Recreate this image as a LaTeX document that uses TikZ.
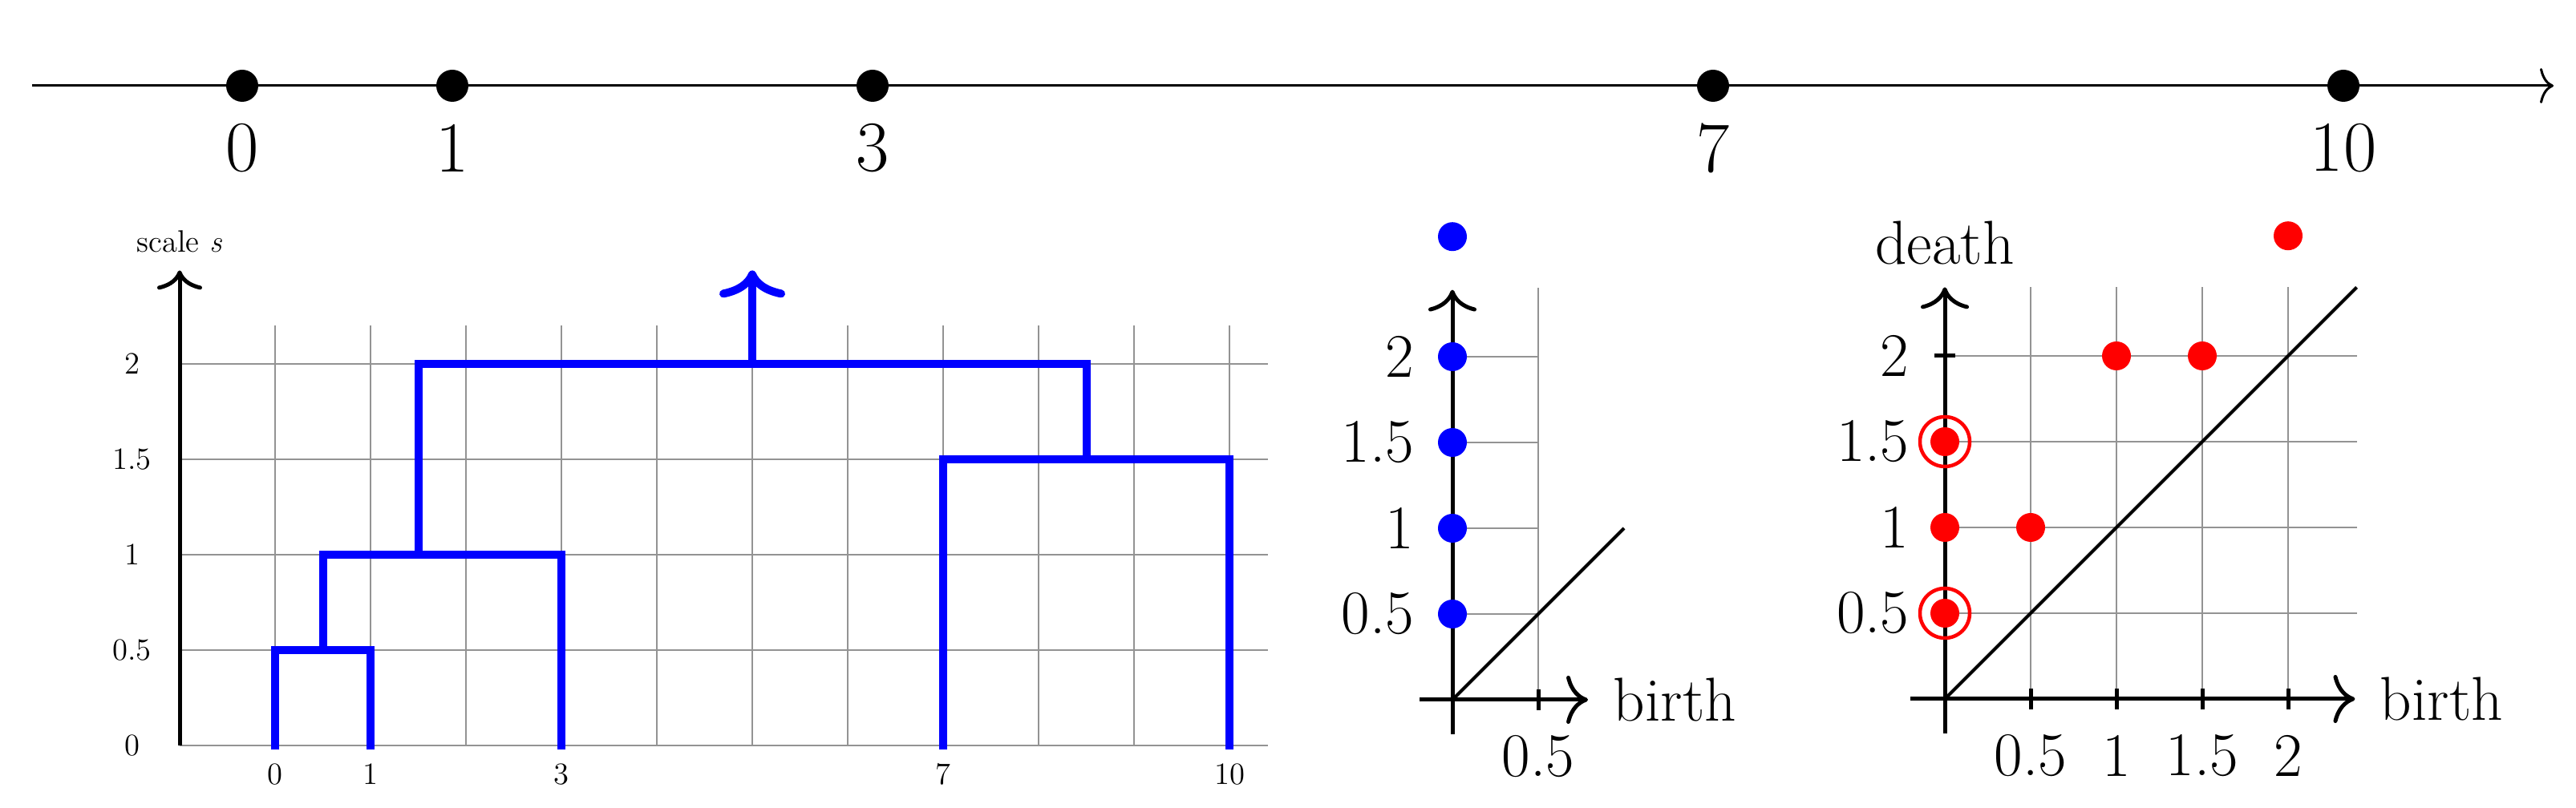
\documentclass[tikz,border=0pt]{standalone}
\usepackage{fontspec}
\usetikzlibrary{arrows.meta}

\begin{document}
\begin{tikzpicture}[
    pdgrid/.style={draw=gray!85, line width=0.015cm},
    axisline/.style={line width=0.05cm, -{Computer Modern Rightarrow[length=0.27cm, width=0.6cm]}},
    tickline/.style={line width=0.05cm},
    diagline/.style={line width=0.04cm},
    dendro/.style={blue, line width=0.1cm},
    toplabel/.style={inner sep=0pt, font=\fontsize{25.5}{30}\selectfont},
    dlabel/.style={inner sep=0pt, font=\fontsize{11}{13}\selectfont},
    pdlabel/.style={inner sep=0pt, font=\fontsize{22}{26}\selectfont}]
    \useasboundingbox (0,0) rectangle (32.12,10.08);

    % points on the line
    \begin{scope}[shift={(3.02,9.01)}, x=2.62cm]
        \draw[line width=0.03cm, -{Computer Modern Rightarrow[length=0.17cm, width=0.44cm]}] (-1,0) -- (11,0);
        \foreach \p in {0,1,3,7,10} {
            \fill (\p,0) circle (0.2cm);
            \node[toplabel] (t\p) at (\p,-0.78) {\p};
        }
    \end{scope}

    % dendrogram
    \begin{scope}[shift={(3.43,0.78)}, x=1.19cm, y=2.38cm]
        \foreach \g in {0,...,10} \draw[pdgrid] (\g,0) -- (\g,2.2);
        \foreach \g in {0,0.5,1,1.5,2} {
            \draw[pdgrid] (-1,\g) -- (10.4,\g);
            \node[dlabel] (s\g) at (-1.5,\g) {\g};
        }
        \draw[axisline, -{Computer Modern Rightarrow[length=0.24cm, width=0.56cm]}] (-1,0) -- (-1,2.49);
        \node[dlabel] (scale) at (-1,2.64) {scale \textit{s}};
        \foreach \p in {0,1,3,7,10} \node[dlabel] (d\p) at (\p,-0.151) {\p};
        \draw[dendro] (0,-0.02) -- (0,0.5) -- (1,0.5) -- (1,-0.02);
        \draw[dendro] (0.5,0.5) -- (0.5,1) -- (3,1) -- (3,-0.02);
        \draw[dendro] (1.5,1) -- (1.5,2) -- (8.5,2) -- (8.5,1.5);
        \draw[dendro] (7,-0.02) -- (7,1.5) -- (10,1.5) -- (10,-0.02);
        \draw[dendro, -{Computer Modern Rightarrow[length=0.34cm, width=0.82cm]}] (5,2) -- (5,2.49);
    \end{scope}

    % H0 diagram
    \begin{scope}[shift={(18.11,1.35)}, x=2.14cm, y=2.14cm]
        \foreach \g in {0.5,1,1.5,2} \draw[pdgrid] (0,\g) -- (0.5,\g);
        \draw[pdgrid] (0.5,0) -- (0.5,2.4);
        \draw[axisline] (0,-0.2) -- (0,2.39);
        \draw[axisline] (-0.19,0) -- (0.79,0);
        \draw[tickline] (0.5,-0.06) -- (0.5,0.06);
        \draw[diagline] (0,0) -- (1,1);
        \foreach \d in {0.5,1,1.5,2,2.7} \fill[blue] (0,\d) circle (0.18cm);
        \foreach \g in {0.5,1,1.5,2} \node[pdlabel, anchor=east] (a\g) at (-0.22,\g) {\g};
        \node[pdlabel] (ax) at (0.5,-0.33) {0.5};
        \node[pdlabel, anchor=west] (abirth) at (0.935,0) {birth};
    \end{scope}

    % H1 diagram
    \begin{scope}[shift={(24.25,1.36)}, x=2.14cm, y=2.14cm]
        \foreach \g in {0.5,1,1.5,2} {
            \draw[pdgrid] (0,\g) -- (2.4,\g);
            \draw[pdgrid] (\g,0) -- (\g,2.4);
        }
        \draw[axisline] (0,-0.2) -- (0,2.4);
        \draw[axisline] (-0.2,0) -- (2.39,0);
        \foreach \g in {0.5,1,1.5,2} {
            \draw[tickline] (\g,-0.06) -- (\g,0.06);
            \draw[tickline] (-0.06,\g) -- (0.06,\g);
            \node[pdlabel, anchor=east] (b\g) at (-0.205,\g) {\g};
            \node[pdlabel] (c\g) at (\g,-0.33) {\g};
        }
        \draw[diagline] (0,0) -- (2.4,2.4);
        \foreach \x/\y in {0/0.5, 0/1, 0/1.5, 0.5/1, 1/2, 1.5/2, 2/2.7} \fill[red] (\x,\y) circle (0.18cm);
        \foreach \y in {0.5,1.5} \draw[red, line width=0.045cm] (0,\y) circle (0.31cm);
        \node[pdlabel] (death) at (0,2.66) {death};
        \node[pdlabel, anchor=west] (bbirth) at (2.533,0) {birth};
    \end{scope}
\end{tikzpicture}
\end{document}
